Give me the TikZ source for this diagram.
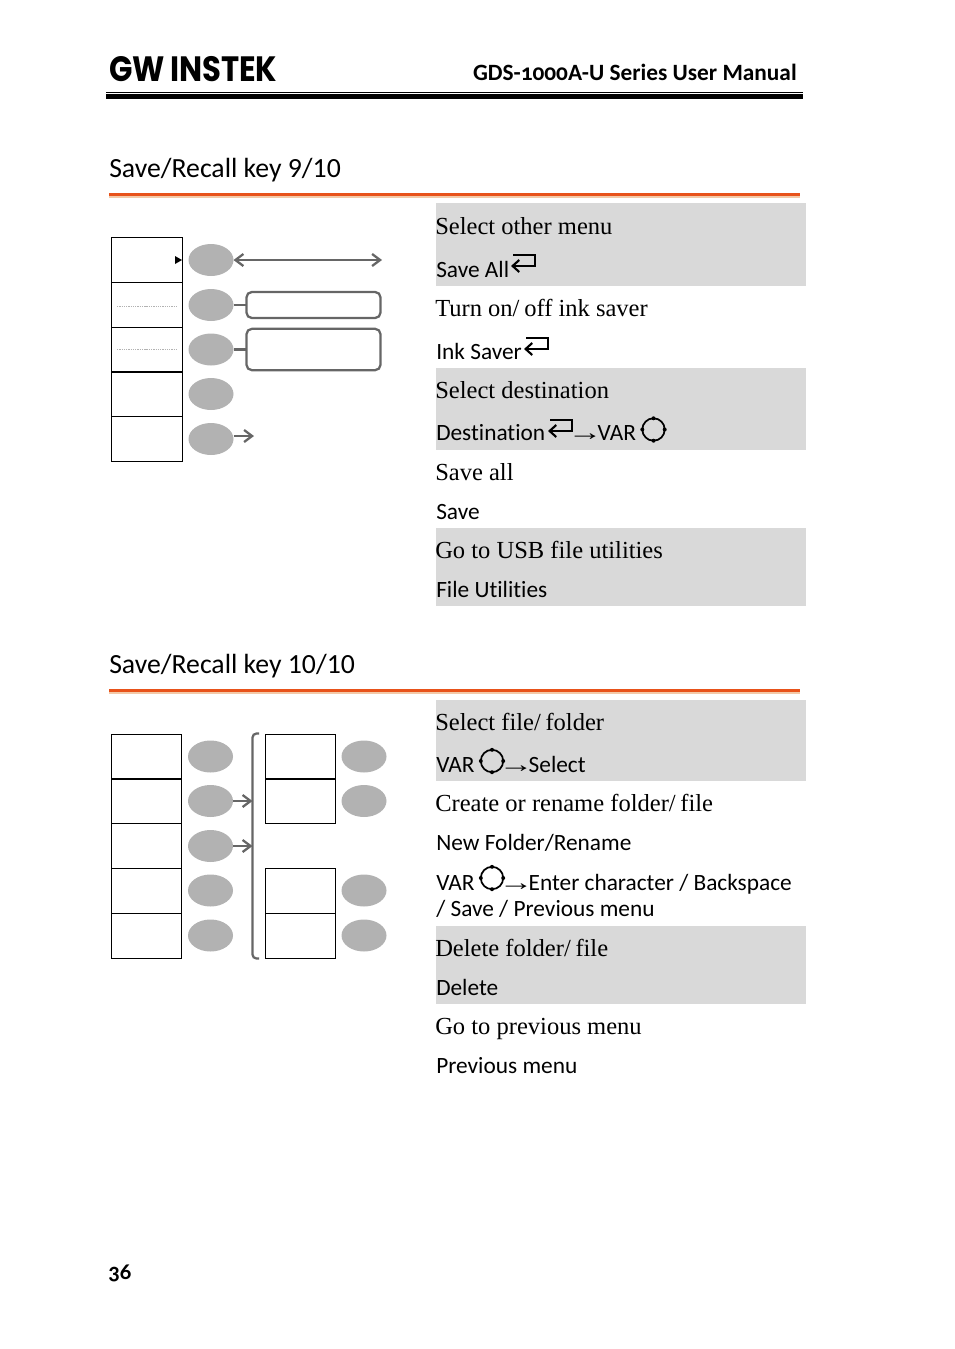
\documentclass[tikz,border=0pt]{standalone}
\usepackage{fontspec}
\usepackage{xcolor}
\usetikzlibrary{arrows.meta,shapes.geometric}
\setmainfont{Liberation Serif}
\setsansfont{Carlito}[Numbers=OldStyle,Ligatures=NoCommon]
\newfontfamily\uifont{Carlito}[Ligatures=NoCommon]
\newfontfamily\logofont{Poppins}
\newcommand{\slashgap}{/\kern3.5pt}
\newcommand{\thenarrow}{\kern-5pt\scalebox{1.5}[1]{\rmfamily→}\kern-3.7pt}
\definecolor{rowgray}{HTML}{D9D9D9}
\definecolor{keygray}{HTML}{B2B2B2}
\definecolor{wire}{HTML}{666666}
\definecolor{rule}{HTML}{E8521A}
\definecolor{rulepale}{HTML}{F3C9A8}
\tikzset{
  softbox/.style={draw=black, line width=0.75pt, minimum width=52.8pt, minimum height=33.6pt, inner sep=0pt, outer sep=0pt},
  softkey/.style={ellipse, fill=keygray, minimum width=33.75pt, minimum height=24pt, inner sep=0pt, outer sep=0pt},
  menubox/.style={draw=wire, line width=1.7pt, rounded corners=4pt, minimum width=100.5pt, inner sep=0pt, outer sep=0pt},
  wireline/.style={draw=wire, line width=1.7pt},
  wirearrow/.style={wireline, -{Straight Barb[length=6pt,width=9pt,line width=1.7pt]}},
  wirearrows/.style={wireline, {Straight Barb[length=6pt,width=9pt,line width=1.7pt]}-{Straight Barb[length=6pt,width=9pt,line width=1.7pt]}},
  row/.style={fill=rowgray, draw=none},
  softdots/.style={keygray, line width=0.5pt, dash pattern=on 1pt off 0.7pt},
  desc/.style={anchor=base west, inner sep=0pt, font=\fontsize{18.4}{20}\selectfont},
  ctl/.style={anchor=base west, inner sep=0pt, font=\uifont\fontsize{17.5}{20}\selectfont},
  heading/.style={anchor=base west, inner sep=0pt, font=\uifont\fontsize{20.8}{24}\selectfont},
  enterkey/.pic={
    \draw[line width=1.6pt, -{Straight Barb[length=5pt,width=9pt,line width=1.6pt]}]
      (2,-11) -- (24,-11) -- (24,0) -- (0,0);
  },
  varknob/.pic={
    \draw[line width=1.3pt] (0,0) circle (8.4pt);
    \foreach \a in {90,180,270,0} \fill (\a:8.4pt) circle (1.5pt);
  },
}
\begin{document}
\begin{tikzpicture}[x=0.75pt,y=-0.75pt]
  \useasboundingbox (0,0) rectangle (954,1349);
  % page header
  \node[anchor=base west, inner sep=0pt] (logo) at (109,81) {\resizebox{126pt}{18.8pt}{\logofont\bfseries GW\,INSTEK}};
  \node[anchor=base east, inner sep=0pt, font=\sffamily\bfseries\fontsize{17.5}{20}\selectfont] (title) at (797,80) {GDS-1000A-U Series User Manual};
  \fill (106,91.5) rectangle (803,92.6);
  \fill (106,94) rectangle (803,99);
  % section 9/10
  \node[heading] (head9) at (109,177.5) {Save/Recall key 9/10};
  \fill[rule] (109,193) rectangle (800,196);
  \fill[rulepale] (109,196) rectangle (800,197.5);
  \fill[row] (436,203) rectangle (806,286);
  \fill[row] (436,368) rectangle (806,450);
  \fill[row] (436,528) rectangle (806,606);
  \foreach \n/\b/\y in {1/259.8/260,2/304.8/305,3/349.6/349.5,4/394.3/394,5/439/439} {
    \node[softbox, minimum width=53pt] (box\n) at (147,\b) {};
    \node[softkey] (key\n) at (211,\y) {};
  }
  \fill (175,256) -- (182,260) -- (175,264) -- cycle;
  \draw[softdots] (117,306) -- (176,306);
  \draw[softdots] (117,349.5) -- (176,349.5);
  \coordinate (allend) at (382,260);
  \coordinate (nextend) at (254,436);
  \node[menubox, minimum height=19.5pt] (saverA) at (313.5,305) {};
  \node[menubox, minimum height=31pt] (saverB) at (313.5,349.5) {};
  \draw[wirearrows] (key1) -- (allend);
  \draw[wireline] (key2) -- (saverA);
  \draw[wireline] (key3) -- (saverB);
  \draw[wirearrow] (key5.east |- nextend) -- (nextend);
  \node[desc] (t1) at (435,234.5) {Select other menu};
  \node[ctl] (c1) at (436,277) {Save All};
  \pic at (511,266) {enterkey};
  \node[desc] (t2) at (435,316.5) {Turn on\slashgap off ink saver};
  \node[ctl] (c2) at (436,359) {Ink Saver};
  \pic at (524,349) {enterkey};
  \node[desc] (t3) at (435,398.5) {Select destination};
  \node[ctl] (c3) at (436,440) {Destination};
  \pic at (548,431) {enterkey};
  \node[ctl] (c3b) at (574,440) {\thenarrow VAR};
  \pic at (653.5,429.5) {varknob};
  \node[desc] (t4) at (435,480.5) {Save all};
  \node[ctl] (c4) at (436,519) {Save};
  \node[desc] (t5) at (435,558.5) {Go to USB file utilities};
  \node[ctl] (c5) at (436,597) {File Utilities};
  % section 10/10
  \node[heading] (head10) at (109,673.5) {Save/Recall key 10/10};
  \fill[rule] (109,689) rectangle (800,692);
  \fill[rulepale] (109,692) rectangle (800,693.5);
  \fill[row] (436,700) rectangle (806,781);
  \fill[row] (436,926) rectangle (806,1004);
  \foreach \n/\b/\y in {1/756.8/756.5,2/801.3/801,3/845.8/846,4/890.8/890.5,5/935.8/935.5} {
    \node[softbox] (lbox\n) at (146.7,\b) {};
    \node[softkey] (lkey\n) at (210.5,\y) {};
  }
  \foreach \n/\b/\y in {1/756.8/756.5,2/801.3/801,4/890.8/890.5,5/935.8/935.5} {
    \node[softbox] (rbox\n) at (300.5,\b) {};
    \node[softkey] (rkey\n) at (364,\y) {};
  }
  \draw[wireline, rounded corners=3pt] (259,733.5) -- (252.5,733.5) -- (252.5,958.5) -- (259,958.5);
  \coordinate (folderend) at (252.5,801);
  \coordinate (nameend) at (252.5,846);
  \draw[wirearrow] (lkey2) -- (folderend);
  \draw[wirearrow] (lkey3) -- (nameend);
  \node[desc] (u1) at (435,730.5) {Select file\slashgap folder};
  \node[ctl] (v1) at (436,772) {VAR};
  \pic at (492,761) {varknob};
  \node[ctl] (v1b) at (505,772) {\thenarrow Select};
  \node[desc] (u2) at (435,811.5) {Create or rename folder\slashgap file};
  \node[ctl] (v2) at (436,850) {New Folder/Rename};
  \node[ctl] (v3) at (436,890) {VAR};
  \pic at (492,878) {varknob};
  \node[ctl] (v3b) at (505,890) {\thenarrow Enter character / Backspace};
  \node[ctl] (v3c) at (436,916) {/ Save / Previous menu};
  \node[desc] (u4) at (435,956.5) {Delete folder\slashgap file};
  \node[ctl] (v4) at (436,995) {Delete};
  \node[desc] (u5) at (435,1034.5) {Go to previous menu};
  \node[ctl] (v5) at (436,1073) {Previous menu};
  % page number
  \node[anchor=base west, inner sep=0pt, font=\sffamily\bfseries\fontsize{17}{20}\selectfont] (page) at (108,1279) {36};
\end{tikzpicture}
\end{document}
